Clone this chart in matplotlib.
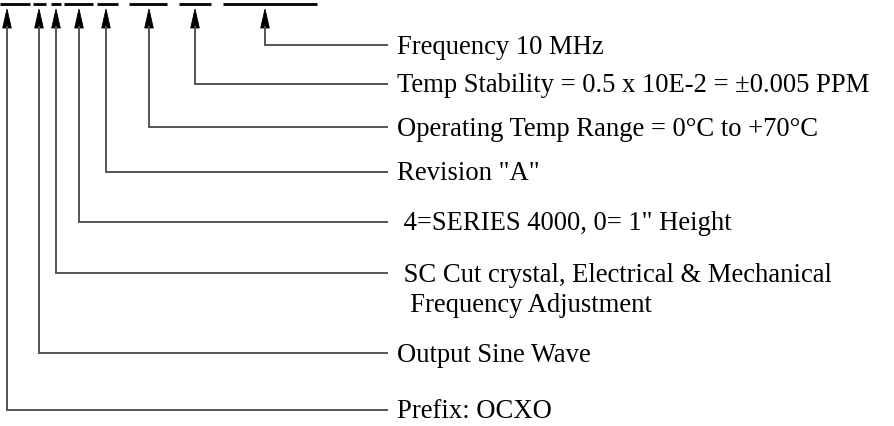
import matplotlib
matplotlib.use("Agg")
import matplotlib.pyplot as plt
from matplotlib.patches import Polygon

# Part-number field blanks (x start, x end) along the top
field_starts = [0, 33, 51, 64, 97, 129, 179, 223]
field_ends = [30, 46, 61, 93, 118, 167, 211, 317]

# Callout labels (top to bottom)
labels = [
    "Frequency 10 MHz",
    "Temp Stability = 0.5 x 10E-2 = \u00b10.005 PPM",
    "Operating Temp Range = 0\u00b0C to +70\u00b0C",
    "Revision \"A\"",
    " 4=SERIES 4000, 0= 1\" Height",
    " SC Cut crystal, Electrical & Mechanical\n  Frequency Adjustment",
    "Output Sine Wave",
    "Prefix: OCXO",
]
# arrow x for each label, and y of the horizontal leader
arrow_x = [265, 195, 149, 106, 79, 56, 39, 7]
leader_y = [45, 84, 127, 172, 222, 273, 353, 410]

W, H = 895, 426
fig = plt.figure(figsize=(W / 100, H / 100), dpi=100)
ax = fig.add_axes([0, 0, 1, 1])
ax.set_xlim(0, W)
ax.set_ylim(H, 0)
ax.axis("off")

for s, e in zip(field_starts, field_ends):
    ax.plot([s, e], [4, 4], color="black", lw=2.0, solid_capstyle="butt")

line_end = 387
text_x = 397
tip_y, base_y, half_w = 9, 28, 4.3
gray = "#555555"
for lab, x, y in zip(labels, arrow_x, leader_y):
    ax.plot([x, x, line_end], [base_y - 1, y, y], color=gray, lw=1.4,
            solid_joinstyle="miter")
    ax.add_patch(Polygon([[x, tip_y], [x - half_w, base_y], [x + half_w, base_y]],
                         closed=True, facecolor="black", edgecolor="black", lw=0.6))
    for i, line in enumerate(lab.split("\n")):
        ax.text(text_x, y + 8.5 + i * 31, line, fontsize=19.2,
                family="Liberation Serif", va="baseline", ha="left", color="black")

fig.savefig("out.png", dpi=100)
